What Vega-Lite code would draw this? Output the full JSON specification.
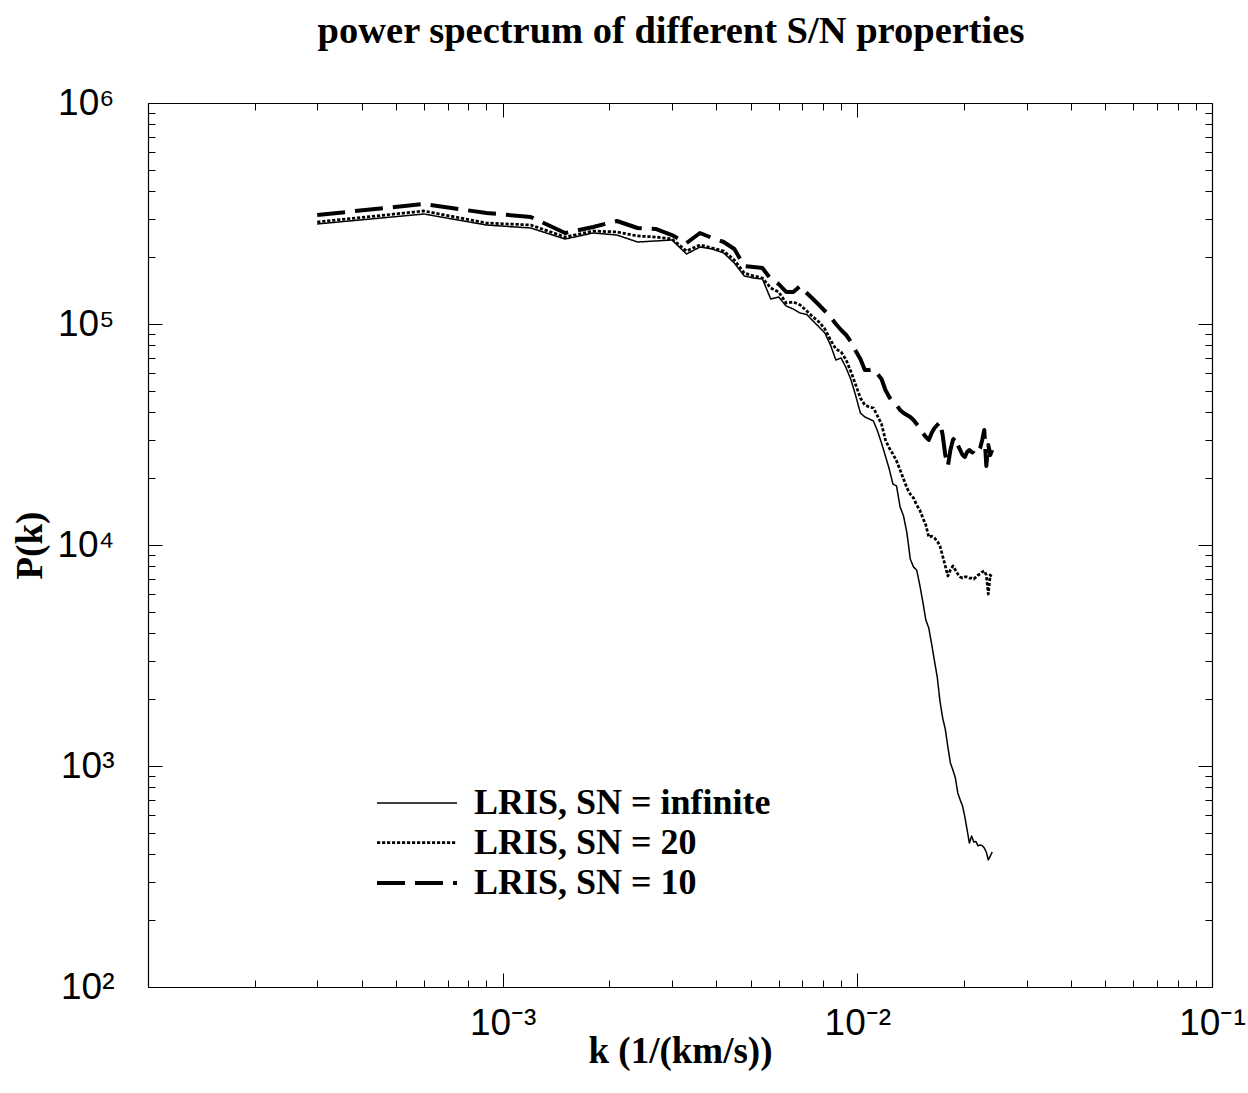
{
"$schema":"https://vega.github.io/schema/vega-lite/v6.json",
"width":1064,"height":884,
"autosize":{"type":"none"},
"padding":{"left":148,"top":103,"right":36,"bottom":106},
"background":"white",
"title":{"text":"power spectrum of different S/N properties","font":"Liberation Serif","fontSize":38.5,"fontWeight":"bold","color":"black","offset":33,"dx":-9},
"config":{"view":{"stroke":null},"axis":{"grid":false,"domainColor":"black","domainWidth":1.2,"tickColor":"black","tickWidth":1,"labelColor":"black"}},
"datasets":{"ps":[
{"s":"inf","k":0.0003,"P":283500},{"s":"inf","k":0.0006,"P":314600},{"s":"inf","k":0.0009,"P":280500},{"s":"inf","k":0.0012,"P":271900},{"s":"inf","k":0.0015,"P":242400},{"s":"inf","k":0.0018,"P":258100},{"s":"inf","k":0.0021,"P":252700},{"s":"inf","k":0.0024,"P":235000},{"s":"inf","k":0.0027,"P":237500},{"s":"inf","k":0.003,"P":240000},
{"s":"inf","k":0.0033,"P":207400},{"s":"inf","k":0.0036,"P":223000},{"s":"inf","k":0.0039,"P":218400},{"s":"inf","k":0.0042,"P":209600},{"s":"inf","k":0.0045,"P":188800},{"s":"inf","k":0.0048,"P":164900},{"s":"inf","k":0.0051,"P":161500},{"s":"inf","k":0.0054,"P":159800},{"s":"inf","k":0.0057,"P":129800},{"s":"inf","k":0.006,"P":132500},
{"s":"inf","k":0.0063,"P":120600},{"s":"inf","k":0.0066,"P":116900},{"s":"inf","k":0.0069,"P":112100},{"s":"inf","k":0.0072,"P":110400},{"s":"inf","k":0.0075,"P":103200},{"s":"inf","k":0.0078,"P":96920},{"s":"inf","k":0.0081,"P":91060},{"s":"inf","k":0.0084,"P":80350},{"s":"inf","k":0.0087,"P":68730},{"s":"inf","k":0.009,"P":70180},
{"s":"inf","k":0.0093,"P":63230},{"s":"inf","k":0.0096,"P":55800},{"s":"inf","k":0.0099,"P":47240},{"s":"inf","k":0.0102,"P":39570},{"s":"inf","k":0.0105,"P":37950},{"s":"inf","k":0.0108,"P":37170},{"s":"inf","k":0.0111,"P":36400},{"s":"inf","k":0.0114,"P":32800},{"s":"inf","k":0.0117,"P":28940},{"s":"inf","k":0.012,"P":25270},
{"s":"inf","k":0.0123,"P":22080},{"s":"inf","k":0.0126,"P":18880},{"s":"inf","k":0.0129,"P":18490},{"s":"inf","k":0.0132,"P":14860},{"s":"inf","k":0.0135,"P":13530},{"s":"inf","k":0.0138,"P":11330},{"s":"inf","k":0.0141,"P":8645},{"s":"inf","k":0.0144,"P":7953},{"s":"inf","k":0.0147,"P":7708},{"s":"inf","k":0.015,"P":6592},
{"s":"inf","k":0.0153,"P":5523},{"s":"inf","k":0.0156,"P":4577},{"s":"inf","k":0.0159,"P":4211},{"s":"inf","k":0.0162,"P":3565},{"s":"inf","k":0.0165,"P":2987},{"s":"inf","k":0.0168,"P":2527},{"s":"inf","k":0.0171,"P":1968},{"s":"inf","k":0.0174,"P":1649},{"s":"inf","k":0.0177,"P":1470},{"s":"inf","k":0.018,"P":1219},
{"s":"inf","k":0.0183,"P":1032},{"s":"inf","k":0.0186,"P":959},{"s":"inf","k":0.0189,"P":882},{"s":"inf","k":0.0192,"P":755},{"s":"inf","k":0.0195,"P":702},{"s":"inf","k":0.0198,"P":659},{"s":"inf","k":0.0201,"P":588},{"s":"inf","k":0.0204,"P":513},{"s":"inf","k":0.0207,"P":448},{"s":"inf","k":0.021,"P":482},
{"s":"inf","k":0.0213,"P":453},{"s":"inf","k":0.0216,"P":455},{"s":"inf","k":0.0219,"P":435},{"s":"inf","k":0.0222,"P":439},{"s":"inf","k":0.0225,"P":436},{"s":"inf","k":0.0228,"P":426},{"s":"inf","k":0.0231,"P":408},{"s":"inf","k":0.0234,"P":376},{"s":"inf","k":0.0237,"P":391},{"s":"inf","k":0.024,"P":408},
{"s":"20","k":0.0003,"P":289400},{"s":"20","k":0.0006,"P":324600},{"s":"20","k":0.0009,"P":286400},{"s":"20","k":0.0012,"P":280500},{"s":"20","k":0.0015,"P":247500},{"s":"20","k":0.0018,"P":263500},{"s":"20","k":0.0021,"P":260800},{"s":"20","k":0.0024,"P":250200},{"s":"20","k":0.0027,"P":247500},{"s":"20","k":0.003,"P":242400},
{"s":"20","k":0.0033,"P":214000},{"s":"20","k":0.0036,"P":227800},{"s":"20","k":0.0039,"P":220700},{"s":"20","k":0.0042,"P":214000},{"s":"20","k":0.0045,"P":194800},{"s":"20","k":0.0048,"P":170100},{"s":"20","k":0.0051,"P":164900},{"s":"20","k":0.0054,"P":161500},{"s":"20","k":0.0057,"P":145500},{"s":"20","k":0.006,"P":139600},
{"s":"20","k":0.0063,"P":124500},{"s":"20","k":0.0066,"P":125800},{"s":"20","k":0.0069,"P":121900},{"s":"20","k":0.0072,"P":114500},{"s":"20","k":0.0075,"P":107600},{"s":"20","k":0.0078,"P":102100},{"s":"20","k":0.0081,"P":94930},{"s":"20","k":0.0084,"P":84640},{"s":"20","k":0.0087,"P":77080},{"s":"20","k":0.009,"P":74710},
{"s":"20","k":0.0093,"P":68730},{"s":"20","k":0.0096,"P":60650},{"s":"20","k":0.0099,"P":52970},{"s":"20","k":0.0102,"P":46270},{"s":"20","k":0.0105,"P":43000},{"s":"20","k":0.0108,"P":42110},{"s":"20","k":0.0111,"P":41680},{"s":"20","k":0.0114,"P":38350},{"s":"20","k":0.0117,"P":35280},{"s":"20","k":0.012,"P":29870},
{"s":"20","k":0.0123,"P":27480},{"s":"20","k":0.0126,"P":25810},{"s":"20","k":0.0129,"P":24000},{"s":"20","k":0.0132,"P":21840},{"s":"20","k":0.0135,"P":19890},{"s":"20","k":0.0138,"P":18110},{"s":"20","k":0.0141,"P":17010},{"s":"20","k":0.0144,"P":16320},{"s":"20","k":0.0147,"P":15170},{"s":"20","k":0.015,"P":14400},
{"s":"20","k":0.0153,"P":13250},{"s":"20","k":0.0156,"P":12320},{"s":"20","k":0.0159,"P":10870},{"s":"20","k":0.0162,"P":10980},{"s":"20","k":0.0165,"P":10760},{"s":"20","k":0.0168,"P":10420},{"s":"20","k":0.0171,"P":9897},{"s":"20","k":0.0174,"P":8917},{"s":"20","k":0.0177,"P":8035},{"s":"20","k":0.018,"P":7240},
{"s":"20","k":0.0183,"P":7708},{"s":"20","k":0.0186,"P":8035},{"s":"20","k":0.0189,"P":7708},{"s":"20","k":0.0192,"P":7393},{"s":"20","k":0.0195,"P":7165},{"s":"20","k":0.0198,"P":7090},{"s":"20","k":0.0201,"P":7165},{"s":"20","k":0.0204,"P":7165},{"s":"20","k":0.0207,"P":7090},{"s":"20","k":0.021,"P":7090},
{"s":"20","k":0.0213,"P":7018},{"s":"20","k":0.0216,"P":7165},{"s":"20","k":0.0219,"P":7316},{"s":"20","k":0.0222,"P":7393},{"s":"20","k":0.0225,"P":7548},{"s":"20","k":0.0228,"P":7627},{"s":"20","k":0.0231,"P":7316},{"s":"20","k":0.0234,"P":6002},{"s":"20","k":0.0237,"P":7316},{"s":"20","k":0.024,"P":7090},
{"s":"10","k":0.0003,"P":311300},{"s":"10","k":0.0006,"P":349100},{"s":"10","k":0.0009,"P":317900},{"s":"10","k":0.0012,"P":305000},{"s":"10","k":0.0015,"P":258100},{"s":"10","k":0.0018,"P":274800},{"s":"10","k":0.0021,"P":292500},{"s":"10","k":0.0024,"P":271900},{"s":"10","k":0.0027,"P":269100},{"s":"10","k":0.003,"P":252700},
{"s":"10","k":0.0033,"P":232500},{"s":"10","k":0.0036,"P":258100},{"s":"10","k":0.0039,"P":244900},{"s":"10","k":0.0042,"P":235000},{"s":"10","k":0.0045,"P":218400},{"s":"10","k":0.0048,"P":183000},{"s":"10","k":0.0051,"P":181100},{"s":"10","k":0.0054,"P":179200},{"s":"10","k":0.0057,"P":159800},{"s":"10","k":0.006,"P":151700},
{"s":"10","k":0.0063,"P":139600},{"s":"10","k":0.0066,"P":139600},{"s":"10","k":0.0069,"P":148600},{"s":"10","k":0.0072,"P":138100},{"s":"10","k":0.0075,"P":129800},{"s":"10","k":0.0078,"P":121900},{"s":"10","k":0.0081,"P":114500},{"s":"10","k":0.0084,"P":107600},{"s":"10","k":0.0087,"P":100000},{"s":"10","k":0.009,"P":93950},
{"s":"10","k":0.0093,"P":89170},{"s":"10","k":0.0096,"P":82910},{"s":"10","k":0.0099,"P":75480},{"s":"10","k":0.0102,"P":69450},{"s":"10","k":0.0105,"P":61930},{"s":"10","k":0.0108,"P":61930},{"s":"10","k":0.0111,"P":62580},{"s":"10","k":0.0114,"P":59410},{"s":"10","k":0.0117,"P":56390},{"s":"10","k":0.012,"P":50290},
{"s":"10","k":0.0123,"P":46750},{"s":"10","k":0.0126,"P":44380},{"s":"10","k":0.0129,"P":43000},{"s":"10","k":0.0132,"P":40820},{"s":"10","k":0.0135,"P":39570},{"s":"10","k":0.0138,"P":38750},{"s":"10","k":0.0141,"P":37950},{"s":"10","k":0.0144,"P":36780},{"s":"10","k":0.0147,"P":35280},{"s":"10","k":0.015,"P":33840},
{"s":"10","k":0.0153,"P":32120},{"s":"10","k":0.0156,"P":30820},{"s":"10","k":0.0159,"P":29870},{"s":"10","k":0.0162,"P":32120},{"s":"10","k":0.0165,"P":33840},{"s":"10","k":0.0168,"P":34910},{"s":"10","k":0.0171,"P":36020},{"s":"10","k":0.0174,"P":31460},{"s":"10","k":0.0177,"P":25540},{"s":"10","k":0.018,"P":22780},
{"s":"10","k":0.0183,"P":26910},{"s":"10","k":0.0186,"P":29870},{"s":"10","k":0.0189,"P":30820},{"s":"10","k":0.0192,"P":28350},{"s":"10","k":0.0195,"P":26910},{"s":"10","k":0.0198,"P":25540},{"s":"10","k":0.0201,"P":25020},{"s":"10","k":0.0204,"P":26350},{"s":"10","k":0.0207,"P":26910},{"s":"10","k":0.021,"P":26350},
{"s":"10","k":0.0213,"P":26080},{"s":"10","k":0.0216,"P":25540},{"s":"10","k":0.0219,"P":26350},{"s":"10","k":0.0222,"P":27480},{"s":"10","k":0.0225,"P":29870},{"s":"10","k":0.0228,"P":33140},{"s":"10","k":0.0231,"P":22780},{"s":"10","k":0.0234,"P":28350},{"s":"10","k":0.0237,"P":25540},{"s":"10","k":0.024,"P":26910}
]},
"data":{"name":"ps"},
"layer":[
{"mark":{"type":"line","color":"black","strokeJoin":"round"},
 "encoding":{
  "x":{"field":"k","type":"quantitative","scale":{"type":"log","domain":[0.0001,0.1]},
   "axis":{"orient":"bottom","values":[0.0001,0.0002,0.0003,0.0004,0.0005,0.0006,0.0007,0.0008,0.0009,0.001,0.002,0.003,0.004,0.005,0.006,0.007,0.008,0.009,0.01,0.02,0.03,0.04,0.05,0.06,0.07,0.08,0.09,0.1],
    "labelExpr":"datum.value == 0.001 ? '10⁻³' : datum.value == 0.01 ? '10⁻²' : datum.value == 0.1 ? '10⁻¹' : ''",
    "tickSize":{"condition":{"test":"indexof([0.0001,0.001,0.01,0.1], datum.value) >= 0","value":-14},"value":-7},
    "labelFont":"Liberation Sans","labelFontSize":37,"labelPadding":32,"labelBaseline":"top","labelFlush":false,"labelOverlap":false,
    "title":"k (1/(km/s))","titleFont":"Liberation Serif","titleFontSize":37,"titleFontWeight":"bold","titleColor":"black","titleY":64,"titleBaseline":"middle"}},
  "y":{"field":"P","type":"quantitative","scale":{"type":"log","domain":[100,1000000]},
   "axis":{"orient":"left","values":[100,200,300,400,500,600,700,800,900,1000,2000,3000,4000,5000,6000,7000,8000,9000,10000,20000,30000,40000,50000,60000,70000,80000,90000,100000,200000,300000,400000,500000,600000,700000,800000,900000,1000000],
    "labelExpr":"datum.value == 100 ? '10²' : datum.value == 1000 ? '10³' : datum.value == 10000 ? '10⁴' : datum.value == 100000 ? '10⁵' : datum.value == 1000000 ? '10⁶' : ''",
    "tickSize":{"condition":{"test":"indexof([100,1000,10000,100000,1000000], datum.value) >= 0","value":-14},"value":-7},
    "labelFont":"Liberation Sans","labelFontSize":37,"labelPadding":48,"labelFlush":false,"labelOverlap":false,
    "title":"P(k)","titleFont":"Liberation Serif","titleFontSize":37,"titleFontWeight":"bold","titleColor":"black","titleX":-118,"titleY":442,"titleBaseline":"middle","titleAngle":-90}},
  "strokeDash":{"field":"s","type":"nominal","scale":{"domain":["inf","20","10"],"range":[[1,0],[3.2,1.8],[28,10]]},
   "legend":{"orient":"none","legendX":247,"legendY":679,"title":null,"symbolType":"M-2,0H2","symbolSize":1600,"symbolStrokeColor":"black",
    "labelExpr":"'LRIS, SN = ' + (datum.label == 'inf' ? 'infinite' : datum.label)",
    "labelFont":"Liberation Serif","labelFontSize":36,"labelFontWeight":"bold","labelColor":"black","labelOffset":35,"rowPadding":0,"labelLimit":600}},
  "strokeWidth":{"field":"s","type":"nominal","scale":{"domain":["inf","20","10"],"range":[1.5,4,4]},
   "legend":{"orient":"none","legendX":247,"legendY":679,"title":null,"symbolType":"M-2,0H2","symbolSize":1600,"symbolStrokeColor":"black",
    "labelExpr":"'LRIS, SN = ' + (datum.label == 'inf' ? 'infinite' : datum.label)",
    "labelFont":"Liberation Serif","labelFontSize":36,"labelFontWeight":"bold","labelColor":"black","labelOffset":35,"rowPadding":0,"labelLimit":600}}
 }},
{"mark":{"type":"point","opacity":0},
 "encoding":{
  "x":{"field":"k","type":"quantitative","scale":{"type":"log","domain":[0.0001,0.1]},
   "axis":{"orient":"top","values":[0.0001,0.0002,0.0003,0.0004,0.0005,0.0006,0.0007,0.0008,0.0009,0.001,0.002,0.003,0.004,0.005,0.006,0.007,0.008,0.009,0.01,0.02,0.03,0.04,0.05,0.06,0.07,0.08,0.09,0.1],
    "labels":false,"title":null,
    "tickSize":{"condition":{"test":"indexof([0.0001,0.001,0.01,0.1], datum.value) >= 0","value":-14},"value":-7}}},
  "y":{"field":"P","type":"quantitative","scale":{"type":"log","domain":[100,1000000]},
   "axis":{"orient":"right","values":[100,200,300,400,500,600,700,800,900,1000,2000,3000,4000,5000,6000,7000,8000,9000,10000,20000,30000,40000,50000,60000,70000,80000,90000,100000,200000,300000,400000,500000,600000,700000,800000,900000,1000000],
    "labels":false,"title":null,
    "tickSize":{"condition":{"test":"indexof([100,1000,10000,100000,1000000], datum.value) >= 0","value":-14},"value":-7}}}
 }}
],
"resolve":{"axis":{"x":"independent","y":"independent"}}
}
